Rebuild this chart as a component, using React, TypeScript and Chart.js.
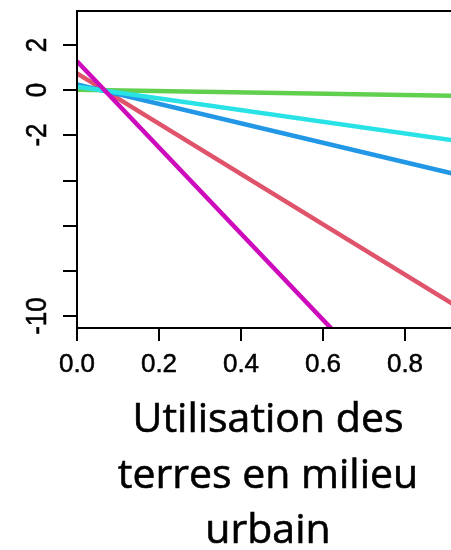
import React, { useEffect, useRef } from "react";
import { Chart, registerables } from "chart.js";

Chart.register(...registerables);

// Line endpoints at x = 0 and x = 1 (straight fitted effects)
const xValues = [0, 1];
const redSeries = [0.75, -10.4];
const greenSeries = [0.02, -0.27];
const blueSeries = [0.26, -4.05];
const cyanSeries = [0.16, -2.43];
const magentaSeries = [1.28, -17.8];

const xTickValues = [0, 0.2, 0.4, 0.6, 0.8];
const xTickLabels = ["0.0", "0.2", "0.4", "0.6", "0.8"];
const yTickValues = [2, 0, -2, -4, -6, -8, -10];
const yTickLabels = ["2", "0", "-2", "", "", "", "-10"];

const xLimits = [0, 0.912];
const yLimits = [-10.53, 3.51];

const titleLines = ["Utilisation des", "terres en milieu", "urbain"];

const toPoints = (ys: number[]) => ys.map((y, i) => ({ x: xValues[i], y }));

const drawText = (ctx: CanvasRenderingContext2D, text: string, x: number, y: number, weight: number) => {
  ctx.fillText(text, x, y);
  ctx.lineWidth = weight;
  ctx.strokeText(text, x, y);
};

const axesPlugin = {
  id: "baseAxes",
  afterDatasetsDraw(chart: any) {
    const { ctx, chartArea, scales } = chart;
    const xs = scales.x;
    const ys = scales.y;
    ctx.save();
    ctx.strokeStyle = "#000";
    ctx.fillStyle = "#000";
    ctx.lineWidth = 2;
    ctx.lineCap = "butt";

    // frame (top, left, bottom)
    ctx.beginPath();
    ctx.moveTo(chartArea.right + 2, chartArea.top);
    ctx.lineTo(chartArea.left, chartArea.top);
    ctx.lineTo(chartArea.left, chartArea.bottom);
    ctx.lineTo(chartArea.right + 2, chartArea.bottom);
    ctx.stroke();

    // y ticks and labels
    ctx.font = "26px 'Liberation Sans', Arial, sans-serif";
    yTickValues.forEach((v, i) => {
      const py = Math.round(ys.getPixelForValue(v));
      ctx.lineWidth = 2;
      ctx.beginPath();
      ctx.moveTo(chartArea.left - 14, py);
      ctx.lineTo(chartArea.left, py);
      ctx.stroke();
      const label = yTickLabels[i];
      if (label) {
        ctx.save();
        ctx.translate(36.5, py);
        ctx.scale(1.12, 1);
        ctx.rotate(-Math.PI / 2);
        ctx.textAlign = "center";
        ctx.textBaseline = "middle";
        drawText(ctx, label, 0, 1, 0.5);
        ctx.restore();
      }
    });

    // x ticks and labels
    xTickValues.forEach((v, i) => {
      const px = Math.round(xs.getPixelForValue(v));
      ctx.lineWidth = 2;
      ctx.beginPath();
      ctx.moveTo(px, chartArea.bottom);
      ctx.lineTo(px, chartArea.bottom + 13);
      ctx.stroke();
      ctx.textAlign = "center";
      ctx.textBaseline = "middle";
      drawText(ctx, xTickLabels[i], px, 365, 0.5);
    });

    // axis title
    ctx.font = "41px 'Open Sans', sans-serif";
    ctx.textAlign = "center";
    ctx.textBaseline = "alphabetic";
    titleLines.forEach((line, i) => {
      drawText(ctx, line, 268, 432 + i * 55.5, 0.6);
    });
    ctx.restore();
  },
};

export default function App() {
  const canvasRef = useRef<HTMLCanvasElement | null>(null);

  useEffect(() => {
    if (!canvasRef.current) return;
    const common = { fill: false, borderWidth: 4.5, pointRadius: 0, tension: 0 };
    const chart = new Chart(canvasRef.current, {
      type: "line",
      data: {
        datasets: [
          { ...common, label: "magenta", data: toPoints(magentaSeries), borderColor: "#CD0BBC" },
          { ...common, label: "cyan", data: toPoints(cyanSeries), borderColor: "#28E2E5" },
          { ...common, label: "blue", data: toPoints(blueSeries), borderColor: "#2297E6" },
          { ...common, label: "green", data: toPoints(greenSeries), borderColor: "#61D04F" },
          { ...common, label: "red", data: toPoints(redSeries), borderColor: "#DF536B" },
        ],
      },
      options: {
        animation: false,
        responsive: false,
        devicePixelRatio: 1,
        layout: { padding: { left: 77, top: 11, right: 0, bottom: 222 } },
        plugins: { legend: { display: false }, tooltip: { enabled: false }, title: { display: false } },
        scales: {
          x: { type: "linear", min: xLimits[0], max: xLimits[1], display: false },
          y: { type: "linear", min: yLimits[0], max: yLimits[1], display: false },
        },
      },
      plugins: [axesPlugin],
    });
    return () => chart.destroy();
  }, []);

  return (
    <div style={{ position: "fixed", left: 0, top: 0, width: 451, height: 550, overflow: "hidden", background: "#fff" }}>
      <canvas ref={canvasRef} width={451} height={550} />
    </div>
  );
}
